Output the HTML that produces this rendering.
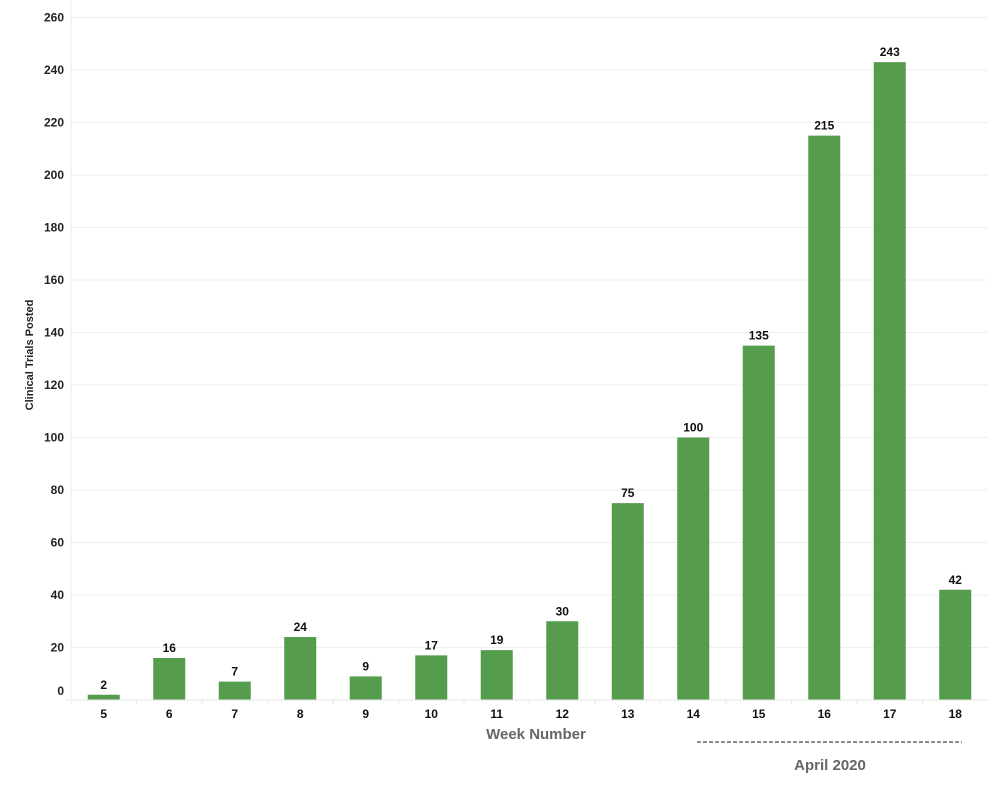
<!DOCTYPE html>
<html><head><meta charset="utf-8"><style>
body{margin:0;background:#fff;font-family:"Liberation Sans",sans-serif}
svg text{font-family:"Liberation Sans",sans-serif}
</style></head><body>
<svg width="1000" height="800">
<g id="grid"></g>
<g id="bars"></g>
<g id="xaxis"></g>
<g id="yaxis"></g>
<text x="33" y="355" transform="rotate(-90 33 355)" text-anchor="middle" font-size="11" font-weight="bold" fill="#222">Clinical Trials Posted</text>
<text x="536" y="739" text-anchor="middle" font-size="15" font-weight="bold" fill="#666">Week Number</text>
<line x1="697" y1="742" x2="962" y2="742" stroke="#666" stroke-width="1.5" stroke-dasharray="4,2"/>
<text x="830" y="770" text-anchor="middle" font-size="15" font-weight="bold" fill="#666">April 2020</text>
</svg>
<script>
const weeks=["5","6","7","8","9","10","11","12","13","14","15","16","17","18"];
const values=[2,16,7,24,9,17,19,30,75,100,135,215,243,42];
const yTicks=[0,20,40,60,80,100,120,140,160,180,200,220,240,260];
const NS="http://www.w3.org/2000/svg";
const L=71,R=988,B=700,T=17.5,YMAX=260;
const band=(R-L)/weeks.length;
const y=v=>B-(v/YMAX)*(B-T);
const xc=i=>L+band*(i+0.5);
function mk(tag,attrs,parent){const e=document.createElementNS(NS,tag);for(const k in attrs)e.setAttribute(k,attrs[k]);parent.appendChild(e);return e;}
const g=document.getElementById('grid'),b=document.getElementById('bars'),xa=document.getElementById('xaxis'),ya=document.getElementById('yaxis');
yTicks.forEach(t=>{
 if(t>0){const l=mk('line',{x1:L,x2:R,y1:y(t),y2:y(t),stroke:'#eeeeee'},g);
 
 }
 const tx=mk('text',{x:64,y:(t===0?y(t)-5:y(t)+4),'text-anchor':'end','font-size':12,'font-weight':'bold',fill:'#222'},ya);
 tx.textContent=t;
 
 
});
const base=mk('line',{x1:66,x2:R,y1:B,y2:B,stroke:'#e6e6e6'},xa);


const yl=mk('line',{x1:L,x2:L,y1:0,y2:B+4,stroke:'#eeeeee'},ya);


weeks.forEach((w,i)=>{
 const v=values[i];
 const r=mk('rect',{x:xc(i)-16,y:y(v),width:32,height:B-y(v),fill:'#559c4c'},b);
 
 
 const lb=mk('text',{x:xc(i),y:y(v)-6,'text-anchor':'middle','font-size':12,'font-weight':'bold',fill:'#111'},b);
 lb.textContent=v;
 
 
 const tk=mk('line',{x1:L+band*i,x2:L+band*i,y1:B,y2:B+4,stroke:'#e6e6e6'},xa);
 
 
 const xl=mk('text',{x:xc(i),y:718,'text-anchor':'middle','font-size':12,'font-weight':'bold',fill:'#111'},xa);
 xl.textContent=w;
 
 
});
</script>
</body></html>
